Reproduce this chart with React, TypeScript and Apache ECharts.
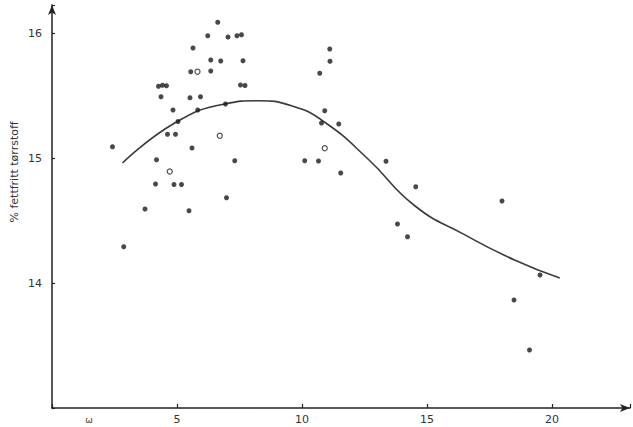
import React, { useEffect, useRef } from "react";
import * as echarts from "echarts";

// x tick values and y tick values
const xTicks = [5, 10, 15, 20];
const yTicks = [14, 15, 16];
const yAxisTitle = "% fettfritt tørrstoff";

// measured points (filled dots)
const dotX = [6.63, 6.23, 7.04, 7.4, 7.58, 5.64, 11.11, 6.35, 6.75, 7.64, 11.12, 5.55, 6.35, 10.71, 4.26, 4.42, 4.58, 7.54, 7.72, 4.36, 5.52, 5.94, 4.84, 5.83, 6.94, 10.91, 5.04, 10.78, 11.47, 4.62, 4.94, 2.42, 5.6, 4.18, 7.31, 10.11, 10.66, 11.55, 4.14, 4.88, 5.18, 6.98, 3.72, 5.48, 2.87, 13.36, 14.55, 13.82, 14.22, 18.0, 19.52, 18.48, 19.1];
const dotY = [16.086, 15.978, 15.968, 15.978, 15.986, 15.88, 15.872, 15.784, 15.776, 15.778, 15.774, 15.69, 15.696, 15.678, 15.574, 15.582, 15.578, 15.584, 15.58, 15.49, 15.482, 15.49, 15.384, 15.384, 15.432, 15.378, 15.292, 15.28, 15.272, 15.19, 15.19, 15.09, 15.08, 14.986, 14.978, 14.978, 14.976, 14.88, 14.792, 14.788, 14.788, 14.682, 14.592, 14.578, 14.29, 14.974, 14.77, 14.472, 14.37, 14.656, 14.064, 13.864, 13.464];

// measured points drawn as open circles
const ringX = [5.82, 6.71, 10.91, 4.71];
const ringY = [15.69, 15.178, 15.078, 14.892];

// fitted curve
const curveX = [2.82, 4.91, 6.91, 8.24, 9.58, 10.91, 12.64, 14.51, 16.5, 18.5, 20.31];
const curveY = [14.96, 15.28, 15.432, 15.458, 15.418, 15.286, 14.992, 14.618, 14.387, 14.184, 14.04];

const zip = (a: number[], b: number[]) => a.map((v, i) => [v, b[i]]);

export default function App() {
  const ref = useRef<HTMLDivElement>(null);
  useEffect(() => {
    if (!ref.current) return;
    const chart = echarts.init(ref.current, null, { renderer: "svg" });
    const ink = "#222";
    chart.setOption({
      animation: false,
      backgroundColor: "#fff",
      grid: { left: 52, right: 3, top: 5, bottom: 19, containLabel: false, outerBoundsMode: "none" },
      xAxis: {
        type: "value",
        min: 0,
        max: 23.12,
        interval: 5,
        splitLine: { show: false },
        axisLine: { show: true, symbol: ["none", "arrow"], symbolSize: [6, 10], lineStyle: { color: ink, width: 1.5 } },
        axisTick: { show: true, inside: true, length: 4, lineStyle: { color: ink, width: 1.2 } },
        axisLabel: {
          margin: 6,
          color: "#333",
          fontSize: 11,
          fontFamily: "DejaVu Sans",
          formatter: (v: number) => (xTicks.includes(v) ? String(v) : ""),
        },
      },
      yAxis: {
        type: "value",
        min: 13,
        max: 16.224,
        interval: 1,
        splitLine: { show: false },
        axisLine: { show: true, symbol: ["none", "arrow"], symbolSize: [6, 10], lineStyle: { color: ink, width: 1.5 } },
        axisTick: { show: true, inside: true, length: 3, lineStyle: { color: ink, width: 1.2 } },
        axisLabel: {
          margin: 10,
          color: "#333",
          fontSize: 11,
          fontFamily: "DejaVu Sans",
          formatter: (v: number) => (yTicks.includes(v) ? String(v) : ""),
        },
      },
      graphic: [
        {
          type: "text",
          x: 14,
          y: 172,
          rotation: Math.PI / 2,
          style: {
            text: yAxisTitle,
            fill: "#333",
            fontSize: 11,
            fontFamily: "DejaVu Sans",
            align: "center",
            verticalAlign: "middle",
          },
        },
        {
          type: "text",
          x: 89,
          y: 420,
          style: { text: "ω", fill: "#444", fontSize: 9, fontFamily: "DejaVu Sans", align: "center", verticalAlign: "middle" },
        },
      ],
      series: [
        {
          type: "line",
          data: zip(curveX, curveY),
          smooth: 0.5,
          showSymbol: false,
          lineStyle: { color: "#3a3a3a", width: 1.6 },
          z: 2,
        },
        {
          type: "scatter",
          data: zip(dotX, dotY),
          symbol: "circle",
          symbolSize: 5,
          itemStyle: { color: "#1a1a1a" },
          z: 3,
        },
        {
          type: "scatter",
          data: zip(ringX, ringY),
          symbol: "circle",
          symbolSize: 5,
          itemStyle: { color: "#fff", borderColor: "#222", borderWidth: 1.2 },
          z: 3,
        },
      ],
    });
    return () => chart.dispose();
  }, []);
  return <div ref={ref} style={{ position: "absolute", left: 0, top: 0, width: 633, height: 427 }} />;
}
